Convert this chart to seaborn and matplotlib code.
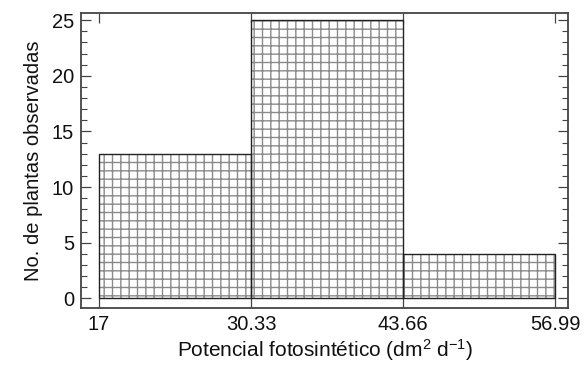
import matplotlib
matplotlib.use('Agg')
import matplotlib.pyplot as plt
import seaborn as sns
import numpy as np
from matplotlib.ticker import MultipleLocator

# histogram data
bin_edges = [17, 30.33, 43.66, 56.99]
counts = [13, 25, 4]
bin_mids = [(a + b) / 2 for a, b in zip(bin_edges[:-1], bin_edges[1:])]
xtick_labels = ['17', '30.33', '43.66', '56.99']

sns.set_style('ticks')
plt.rcParams['font.family'] = ['Liberation Sans', 'DejaVu Sans']
plt.rcParams['mathtext.fontset'] = 'custom'
plt.rcParams['mathtext.rm'] = 'Liberation Sans'
plt.rcParams['mathtext.it'] = 'Liberation Sans'
plt.rcParams['hatch.linewidth'] = 1.0

fig = plt.figure(figsize=(5.87, 3.65), dpi=100)
ax = fig.add_axes([0.138, 0.155, 0.830, 0.809])

# hatched fill
sns.histplot(x=bin_mids, weights=counts, bins=bin_edges, ax=ax,
             color='white', edgecolor='#8a8a8a', linewidth=0, hatch='++', alpha=1)
# dark outlines
sns.histplot(x=bin_mids, weights=counts, bins=bin_edges, ax=ax,
             fill=False, color='#222222', linewidth=1.0)

ax.set_xlim(15.42, 58.13)
ax.set_ylim(-0.9, 25.63)
ax.set_xticks(bin_edges)
ax.set_xticklabels(xtick_labels)
ax.yaxis.set_major_locator(MultipleLocator(5))
ax.yaxis.set_minor_locator(MultipleLocator(1))

ax.tick_params(axis='both', which='major', direction='in', length=7, width=0.9,
               color='#444444', labelsize=14.5, labelcolor='#111111',
               top=True, right=True, pad=5)
ax.tick_params(axis='y', which='minor', direction='in', length=4, width=0.8,
               color='#444444', right=True)

for sp in ax.spines.values():
    sp.set_color('#444444')
    sp.set_linewidth(1.3)

ax.set_xlabel('Potencial fotosintético (dm$^{2}$ d$^{-1}$)', fontsize=15,
              labelpad=2, color='#111111')
ax.set_ylabel('No. de plantas observadas', fontsize=14.5, labelpad=6,
              color='#111111')

fig.savefig('out.png', dpi=100)
